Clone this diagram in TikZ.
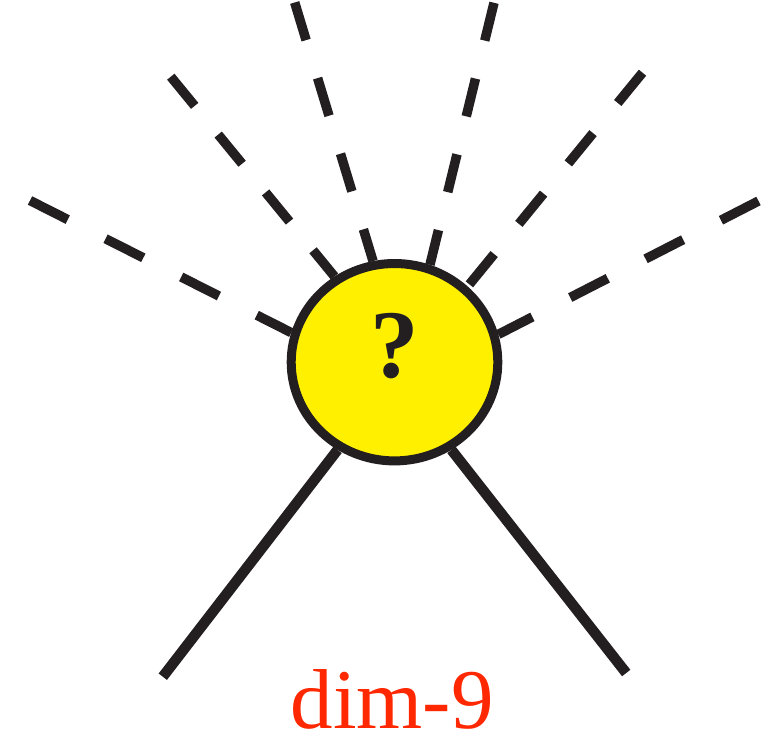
\documentclass[tikz,border=0pt]{standalone}
\usepackage{fontspec}
\setmainfont{Liberation Serif}
\usetikzlibrary{shapes.geometric,backgrounds}
\definecolor{inkblack}{RGB}{35,31,32}
\definecolor{sunyellow}{RGB}{255,240,0}
\definecolor{labelred}{RGB}{255,40,0}
\begin{document}
\begin{tikzpicture}[x=1pt,y=-1pt,
  ray/.style={draw=inkblack, line width=9.5pt},
  leg/.style={draw=inkblack, line width=10.5pt},
  blob/.style={ellipse, draw=inkblack, fill=sunyellow, line width=9pt,
    minimum width=206.6pt, minimum height=197.4pt, inner sep=0pt}]
\useasboundingbox (0,0) rectangle (770,750);
\node[blob] (c) at (394.5,362.2) {};
\node[anchor=base, font=\fontsize{97}{110}\selectfont\bfseries, text=inkblack, inner sep=0pt] (q) at (394.5,377) {?};
\node[anchor=base, font=\fontsize{85}{100}\selectfont, text=labelred, inner sep=0pt] (lab) at (392.2,728.3) {dim-9};
\coordinate (d1) at (30,200.5);
\coordinate (d2) at (170.8,76.7);
\coordinate (d3) at (294.7,2.5);
\coordinate (d4) at (494,2.8);
\coordinate (d5) at (642.5,72.7);
\coordinate (d6) at (758.5,201);
\coordinate (s1) at (162.8,676.7);
\coordinate (s2) at (626.2,673);
\begin{scope}[on background layer]
\draw[ray, dash pattern=on 42.3pt off 42.4pt] (d1) -- (c.164);
\draw[ray, dash pattern=on 37.7pt off 37.1pt] (d2) -- (c.125.1);
\draw[ray, dash pattern=on 39.3pt off 39.7pt] (d3) -- (c.102.2);
\draw[ray, dash pattern=on 38.9pt off 39.1pt] (d4) -- (c.70.9);
\draw[ray, dash pattern=on 39.1pt off 39pt] (d5) -- (c.46.7);
\draw[ray, dash pattern=on 42.2pt off 42.5pt] (d6) -- (c.15.9);
\draw[leg] (c.237.5) -- (s1);
\draw[leg] (c.303.5) -- (s2);
\end{scope}
\end{tikzpicture}
\end{document}
